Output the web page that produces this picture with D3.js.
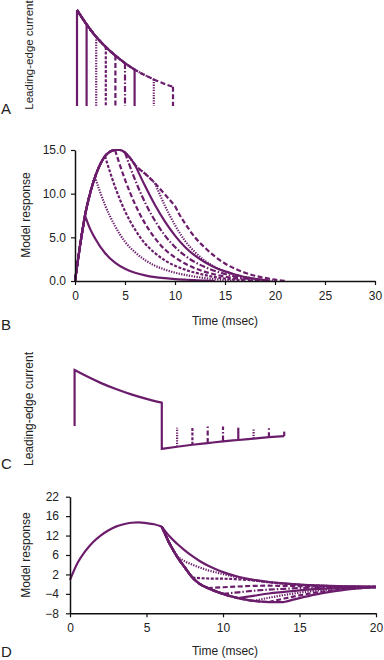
<!DOCTYPE html>
<html>
<head>
<meta charset="utf-8">
<script src="https://cdn.jsdelivr.net/npm/d3@7"></script>
<style>
  body { margin: 0; background: #fff; }
  text { font-family: "Liberation Sans", Arial, sans-serif; }
</style>
</head>
<body>
<div id="chart"></div>
<script>
// panel A: leading-edge current pulses
var aTime = [0, 1, 2, 3, 4, 5, 6, 7, 8, 9, 10];
var aCurrent = [1, 0.85, 0.72, 0.615, 0.525, 0.447, 0.38, 0.325, 0.277, 0.235, 0.2];
var pulseEnds = [1, 2, 3, 4, 5, 6, 8, 10];
var pulseStyles = ["solid", "dot", "dash3", "dash", "dashdot", "solid", "dot", "dash"];

// panel B: model response
var envTime = [0, 0.5, 1, 1.5, 2, 2.5, 3, 3.5, 4, 4.5, 5, 5.5, 6, 7, 8, 9, 10];
var envResp = [0, 4.0, 7.5, 10.0, 11.9, 13.3, 14.3, 14.8, 15.0, 15.0, 14.7, 14.1, 13.3, 12.3, 11.2, 9.9, 8.6];
var bDecay1 = [[1,7.5],[1.5,6.0],[2,4.9],[3,3.2],[4,2.1],[5,1.4],[6,0.95],[7,0.65],[8,0.45],[9,0.32],[10,0.22],[11,0.15],[12,0.09],[13,0.04],[14,0]];
var bDecay2 = [[2,11.9],[3,8.7],[4,6.3],[5,4.5],[6,3.3],[7,2.4],[8,1.75],[9,1.3],[10,0.95],[11,0.7],[12,0.5],[13,0.33],[14,0.2],[15,0.1],[16,0]];
var bDecay3 = [[3,14.3],[4,10.8],[5,8.0],[6,5.9],[7,4.3],[8,3.2],[9,2.35],[10,1.75],[11,1.3],[12,0.95],[13,0.68],[14,0.45],[15,0.28],[16,0.15],[17,0]];
var bDecay4 = [[4,15.0],[5,11.6],[6,8.8],[7,6.6],[8,4.9],[9,3.6],[10,2.7],[11,2.0],[12,1.45],[13,1.05],[14,0.75],[15,0.5],[16,0.3],[17,0.15],[18,0]];
var bDecay5 = [[5,14.7],[6,11.6],[7,9.0],[8,6.9],[9,5.2],[10,3.9],[11,2.9],[12,2.15],[13,1.6],[14,1.15],[15,0.8],[16,0.5],[17,0.3],[18,0.12],[18.5,0]];
var bDecay6 = [[6,13.3],[7,10.9],[8,8.7],[9,6.8],[10,5.2],[11,3.9],[12,2.9],[13,2.15],[14,1.55],[15,1.1],[16,0.75],[17,0.45],[18,0.25],[19,0.1],[19.5,0]];
var bDecay8 = [[8,11.2],[9,8.6],[10,6.4],[11,4.6],[12,3.3],[13,2.3],[14,1.6],[15,1.1],[16,0.7],[17,0.45],[18,0.25],[19,0.1],[20,0]];
var bDecay10 = [[10,8.6],[10.5,7.5],[11,6.6],[12,5.0],[13,3.8],[14,2.8],[15,2.0],[16,1.4],[17,0.95],[18,0.6],[19,0.35],[20,0.15],[21.2,0]];
var bXTicks = [0, 5, 10, 15, 20, 25, 30];
var bYTicks = [0, 5, 10, 15];

// panel C: current with reversal
var cTime1 = [0.3, 1, 2, 3, 4, 5, 6];
var cCurr1 = [1.0, 0.9, 0.77, 0.66, 0.565, 0.485, 0.416];
var cTime2 = [6, 7, 8, 9, 10, 11, 12, 13, 14];
var cCurr2 = [-0.41, -0.37, -0.335, -0.305, -0.275, -0.25, -0.225, -0.2, -0.18];
var cTickTimes = [7, 8, 9, 10, 11, 12, 13, 14];
var cTickTop = [-0.03, -0.01, -0.01, -0.01, -0.03, -0.05, -0.04, -0.1];
var cTickStyles = ["dot", "dash3", "dash", "dashdot", "solid", "dot", "dash", "solid"];

// panel D: model response
var dRise = [[0,0.6],[0.5,5.0],[1,8.0],[1.5,10.3],[2,12.0],[2.5,13.3],[3,14.3],[3.5,14.9],[4,15.3],[4.5,15.4],[5,15.2],[5.5,14.9],[6,14.3]];
var dUpper = [[6,14.3],[6.5,11.8],[7,9.9],[7.5,8.2],[8,6.7],[8.5,5.4],[9,4.3],[9.5,3.4],[10,2.6],[11,1.4],[12,0.6],[13,0.05],[14,-0.3],[15,-0.6],[16,-0.8],[17,-0.95],[18,-1.05],[19,-1.1],[20,-1.15]];
var dLower = [[6,14.3],[6.5,10.0],[7,6.6],[7.5,3.8],[8,1.2],[8.5,-0.5],[9,-1.5],[9.5,-2.3],[10,-3.0],[10.5,-3.6],[11,-4.1],[11.5,-4.5],[12,-4.8],[12.5,-5.0],[13,-5.1],[13.5,-5.15],[14,-5.1]];
var dBranch7 = [[7,6.6],[7.5,5.4],[8,4.5],[9,3.1],[10,2.1],[11,1.2],[12,0.5],[13,0.0],[14,-0.35],[15,-0.65],[16,-0.85],[17,-1.0],[18,-1.1],[20,-1.2]];
var dBranch8 = [[8,1.2],[9,0.95],[10,0.9],[11,0.75],[12,0.45],[13,0.0],[14,-0.35],[15,-0.65],[16,-0.85],[17,-1.0],[18,-1.1],[20,-1.2]];
var dBranch9 = [[9,-1.5],[10,-1.3],[11,-1.1],[12,-0.95],[13,-0.9],[14,-0.95],[15,-1.0],[16,-1.1],[17,-1.15],[18,-1.2],[20,-1.2]];
var dBranch10 = [[10,-3.0],[11,-2.6],[12,-2.2],[13,-1.9],[14,-1.7],[15,-1.5],[16,-1.4],[17,-1.3],[18,-1.25],[20,-1.2]];
var dBranch11 = [[11,-4.1],[12,-3.5],[13,-2.9],[14,-2.5],[15,-2.1],[16,-1.8],[17,-1.6],[18,-1.45],[19,-1.35],[20,-1.25]];
var dBranch12 = [[12,-4.8],[13,-4.0],[14,-3.3],[15,-2.7],[16,-2.2],[17,-1.9],[18,-1.6],[19,-1.45],[20,-1.3]];
var dBranch13 = [[13,-5.1],[14,-4.2],[15,-3.4],[16,-2.7],[17,-2.2],[18,-1.8],[19,-1.5],[20,-1.3]];
var dBranch14 = [[14,-5.1],[15,-4.1],[16,-3.2],[17,-2.5],[18,-1.9],[19,-1.5],[20,-1.25]];
var dBranchStyles = ["dot", "dash3", "dash", "dashdot", "solid", "dot", "dash", "solid"];
var dXTicks = [0, 5, 10, 15, 20];
var dYTicks = [-8, -3, 2, 7, 12, 17, 22];
var dYTickLabels = ["\u22128", "\u22124", "2", "6", "12", "16", "22"];

var color = "#6b1d6c";
var dashes = {solid: null, dot: "1.3,1.3", dash3: "3,1.6", dash: "5,2.5", dashdot: "6,2,1.5,2"};

var svg = d3.select("#chart")
  .append("svg")
  .attr("width", 384)
  .attr("height", 660);

function styled(sel, style) {
  return sel.attr("fill", "none")
    .attr("stroke", color)
    .attr("stroke-width", 2.2)
    .attr("stroke-dasharray", dashes[style]);
}

function sideLabel(txt, x, y, size) {
  svg.append("text")
    .attr("transform", `translate(${x}, ${y}) rotate(-90)`)
    .attr("text-anchor", "middle")
    .attr("font-size", size)
    .attr("fill", "#222")
    .text(txt);
}

function panelLetter(txt, y) {
  svg.append("text")
    .attr("x", 1)
    .attr("y", y)
    .attr("font-size", "15px")
    .attr("fill", "#222")
    .text(txt);
}

function styleAxis(g) {
  g.select(".domain").attr("stroke", "#111").attr("stroke-width", 1.5);
  g.selectAll(".tick line").attr("stroke", "#111").attr("stroke-width", 1.2);
  g.selectAll(".tick text").attr("font-size", "12px").attr("fill", "#222")
    .attr("font-family", "Liberation Sans, Arial, sans-serif");
}

// ---------- panel A ----------
var xA = d3.scaleLinear().domain([0, 10]).range([77, 173]);
var yA = d3.scaleLinear().domain([0, 1]).range([106, 10]);
var aPts = aTime.map((t, i) => [t, aCurrent[i]]);
var lineA = d3.line().x(d => xA(d[0])).y(d => yA(d[1])).curve(d3.curveMonotoneX);

svg.append("line")
  .attr("x1", xA(0)).attr("x2", xA(0))
  .attr("y1", yA(0)).attr("y2", yA(aCurrent[0]))
  .call(styled, "solid");

pulseEnds.forEach(function(end, i) {
  var pts = aPts.filter(d => d[0] <= end);
  var top = pts[pts.length - 1][1];
  svg.append("path").attr("d", lineA(pts)).call(styled, pulseStyles[i]);
  svg.append("line")
    .attr("x1", xA(end)).attr("x2", xA(end))
    .attr("y1", yA(top)).attr("y2", yA(0))
    .call(styled, pulseStyles[i]);
});

sideLabel("Leading-edge current", 33, 55, "11.5px");
panelLetter("A", 114);

// ---------- panel B ----------
var xB = d3.scaleLinear().domain([0, 30]).range([75, 375]);
var yB = d3.scaleLinear().domain([0, 15]).range([281, 150]);
var lineB = d3.line().x(d => xB(d[0])).y(d => yB(d[1])).curve(d3.curveMonotoneX);
var envPts = envTime.map((t, i) => [t, envResp[i]]);
var bDecays = [bDecay1, bDecay2, bDecay3, bDecay4, bDecay5, bDecay6, bDecay8, bDecay10];

var gB = svg.append("g");
bDecays.forEach(function(decay, i) {
  var end = pulseEnds[i];
  var rise = envPts.filter(d => d[0] <= end);
  gB.append("path")
    .attr("d", lineB(rise) + lineB(decay))
    .call(styled, pulseStyles[i]);
});

svg.append("g")
  .attr("transform", "translate(0, 281)")
  .call(d3.axisBottom(xB).tickValues(bXTicks).tickSize(4).tickSizeOuter(0).tickPadding(6))
  .call(styleAxis);
svg.append("g")
  .attr("transform", "translate(75, 0)")
  .call(d3.axisLeft(yB).tickValues(bYTicks).tickFormat(d3.format(".1f")).tickSize(4).tickSizeOuter(0).tickPadding(5))
  .call(styleAxis);

sideLabel("Model response", 30, 215, "12px");
svg.append("text")
  .attr("x", 225).attr("y", 325)
  .attr("text-anchor", "middle")
  .attr("font-size", "12px")
  .attr("fill", "#222")
  .text("Time (msec)");
panelLetter("B", 330);

// ---------- panel C ----------
var xD = d3.scaleLinear().domain([0, 20]).range([70, 376]);
var yC = d3.scaleLinear().domain([-0.5, 1]).range([454, 370]);
var lineC = d3.line().x(d => xD(d[0])).y(d => yC(d[1])).curve(d3.curveMonotoneX);
var c1 = cTime1.map((t, i) => [t, cCurr1[i]]);
var c2 = cTime2.map((t, i) => [t, cCurr2[i]]);

cTickTimes.forEach(function(t, i) {
  var low = c2.find(d => d[0] === t)[1];
  svg.append("line")
    .attr("x1", xD(t)).attr("x2", xD(t))
    .attr("y1", yC(low)).attr("y2", yC(cTickTop[i]))
    .call(styled, cTickStyles[i]);
});

svg.append("path")
  .attr("d", "M" + xD(c1[0][0]) + "," + yC(0) + "L" + xD(c1[0][0]) + "," + yC(c1[0][1]) +
    lineC(c1).replace(/^M/, "L") +
    "L" + xD(c2[0][0]) + "," + yC(c2[0][1]) +
    lineC(c2).replace(/^M/, "L"))
  .attr("stroke-linejoin", "miter")
  .call(styled, "solid");

sideLabel("Leading-edge current", 33, 409, "12px");
panelLetter("C", 469);

// ---------- panel D ----------
var yD = d3.scaleLinear().domain([-8, 22]).range([613.3, 496.7]);
var lineD = d3.line().x(d => xD(d[0])).y(d => yD(d[1])).curve(d3.curveMonotoneX);
var dBranches = [dBranch7, dBranch8, dBranch9, dBranch10, dBranch11, dBranch12, dBranch13, dBranch14];

dBranches.forEach(function(branch, i) {
  var start = branch[0][0];
  var low = dLower.filter(d => d[0] <= start);
  svg.append("path")
    .attr("d", lineD(low) + lineD(branch))
    .call(styled, dBranchStyles[i]);
});
svg.append("path").attr("d", lineD(dRise)).call(styled, "solid");
svg.append("path").attr("d", lineD(dUpper)).call(styled, "solid");

svg.append("g")
  .attr("transform", "translate(0, 613.3)")
  .call(d3.axisBottom(xD).tickValues(dXTicks).tickSize(4).tickSizeOuter(0).tickPadding(6))
  .call(styleAxis);
svg.append("g")
  .attr("transform", "translate(70, 0)")
  .call(d3.axisLeft(yD).tickValues(dYTicks).tickFormat((d, i) => dYTickLabels[i]).tickSize(4).tickSizeOuter(0).tickPadding(7))
  .call(styleAxis);

sideLabel("Model response", 30, 555, "12px");
svg.append("text")
  .attr("x", 225).attr("y", 655)
  .attr("text-anchor", "middle")
  .attr("font-size", "12px")
  .attr("fill", "#222")
  .text("Time (msec)");
panelLetter("D", 657);
</script>
</body>
</html>
